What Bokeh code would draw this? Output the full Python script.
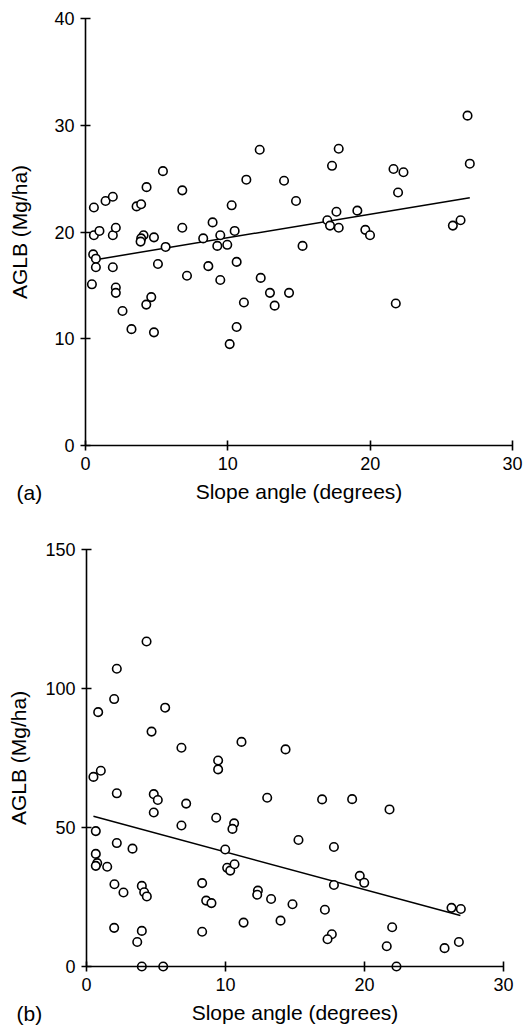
from bokeh.plotting import figure
from bokeh.layouts import column
from bokeh.models import Range1d, FixedTicker
from bokeh.core.properties import value
from bokeh.embed import file_html
from bokeh.resources import INLINE

# ---- data: panel (a) ----
a_slope = [0.45, 0.59, 0.59, 0.54, 0.73, 0.73, 0.98, 1.41, 1.92, 1.92, 1.92, 2.13, 2.13, 2.13,
           2.6, 3.23, 3.59, 3.91, 4.29, 5.44, 4.08, 3.91, 3.87, 4.81, 5.63, 5.09, 4.27, 4.62,
           4.81, 6.8, 6.8, 7.13, 8.63, 8.27, 8.93, 9.26, 9.47, 9.96, 9.47, 10.27, 10.48, 10.62,
           10.13, 10.62, 11.13, 11.3, 12.24, 12.31, 12.96, 13.29, 13.95, 14.3, 14.79, 15.25,
           17.79, 17.32, 17.63, 16.99, 17.18, 17.79, 19.1, 19.66, 19.99, 21.64, 22.34, 21.96,
           21.8, 25.81, 26.35, 26.84, 27.0]
a_aglb = [15.1, 22.3, 19.7, 17.9, 17.5, 16.7, 20.1, 22.9, 23.3, 19.7, 16.7, 20.4, 14.8, 14.3,
          12.6, 10.9, 22.4, 22.6, 24.2, 25.7, 19.7, 19.4, 19.1, 19.5, 18.6, 17.0, 13.2, 13.9,
          10.6, 23.9, 20.4, 15.9, 16.8, 19.4, 20.9, 18.7, 19.7, 18.8, 15.5, 22.5, 20.1, 17.2,
          9.5, 11.1, 13.4, 24.9, 27.7, 15.7, 14.3, 13.1, 24.8, 14.3, 22.9, 18.7,
          27.8, 26.2, 21.9, 21.1, 20.6, 20.4, 22.0, 20.2, 19.7, 25.9, 25.6, 23.7,
          13.3, 20.6, 21.1, 30.9, 26.4]
a_fit_x = [0.7, 27.0]
a_fit_intercept = 17.25
a_fit_slope = 0.221

# ---- data: panel (b) ----
b_slope = [4.32, 2.18, 1.99, 0.84, 5.66, 4.68, 6.83, 11.15, 14.32, 9.47, 9.47, 0.5, 1.03, 2.18,
           4.84, 5.13, 7.17, 13.0, 4.84, 9.33, 6.83, 10.62, 10.5, 0.67, 15.25, 16.95, 19.11,
           21.8, 2.18, 3.31, 0.67, 0.77, 0.67, 1.49, 2.01, 2.66, 3.98, 4.15, 4.34, 1.99, 3.98,
           3.65, 3.98, 5.52, 8.32, 8.61, 8.99, 8.32, 9.98, 10.12, 10.34, 10.65, 11.3, 12.33,
           12.28, 13.28, 13.96, 14.82, 17.8, 19.66, 19.98, 17.8, 17.15, 17.65, 17.34, 21.99,
           21.6, 22.3, 25.76, 26.79, 26.26, 26.93]
b_aglb = [116.9, 107.1, 96.2, 91.5, 93.1, 84.5, 78.7, 80.8, 78.1, 74.1, 70.9, 68.2, 70.4, 62.3,
          62.0, 59.9, 58.6, 60.7, 55.4, 53.5, 50.7, 51.5, 49.5, 48.7, 45.5, 60.1, 60.2,
          56.5, 44.4, 42.4, 40.5, 37.2, 36.2, 35.9, 29.6, 26.6, 29.0, 26.7, 25.2, 13.9, 12.8,
          8.8, 0.0, 0.0, 30.0, 23.7, 22.8, 12.5, 42.1, 35.5, 34.5, 36.8, 15.8, 27.3,
          25.8, 24.3, 16.5, 22.4, 43.0, 32.6, 30.1, 29.3, 20.4, 11.6, 9.8, 14.1,
          7.3, 0.0, 6.6, 8.8, 21.1, 20.7]
b_fit_x = [0.5, 26.9]
b_fit_intercept = 54.75
b_fit_slope = -1.354

x_ticks = [0, 10, 20, 30]
a_y_ticks = [0, 10, 20, 30, 40]
b_y_ticks = [0, 50, 100, 150]

FONT = "Liberation Sans"
W = 523


def make_panel(xs, ys, fit_x, icpt, slope, ymax, yticks, tag, height,
               px_x0, px_x30, px_ytop, px_y0, title_standoff):
    # axes are drawn at fixed locations inside a frame spanning the whole canvas;
    # ranges are chosen so that the data box lands at the given pixel positions
    sx = (px_x30 - px_x0) / 30.0
    sy = (px_y0 - px_ytop) / float(ymax)
    xr = Range1d(-px_x0 / sx, 30 + (W - px_x30) / sx)
    yr = Range1d(-(height - px_y0) / sy, ymax + px_ytop / sy)
    p = figure(width=W, height=height, output_backend="svg", toolbar_location=None,
               x_range=xr, y_range=yr, min_border=0,
               min_border_top=0, min_border_bottom=0, min_border_left=0, min_border_right=0)
    p.outline_line_color = None
    p.xgrid.visible = False
    p.ygrid.visible = False
    p.background_fill_color = "white"
    p.border_fill_color = "white"
    for ax in (p.xaxis[0], p.yaxis[0]):
        ax.fixed_location = 0
        ax.axis_line_width = 1.6
        ax.axis_line_color = "black"
        ax.major_tick_line_width = 1.6
        ax.major_tick_line_color = "black"
        ax.major_tick_in = 5
        ax.major_tick_out = 5
        ax.minor_tick_line_color = None
        ax.major_label_text_font = FONT
        ax.major_label_text_font_size = "18px"
        ax.major_label_text_color = "black"
        ax.axis_label_text_font = FONT
        ax.axis_label_text_font_size = "21px"
        ax.axis_label_text_font_style = "normal"
        ax.axis_label_text_color = "black"
    p.xaxis.bounds = (0, 30)
    p.yaxis.bounds = (0, ymax)
    p.xaxis.ticker = FixedTicker(ticks=x_ticks)
    p.yaxis.ticker = FixedTicker(ticks=yticks)
    p.xaxis.axis_label = "Slope angle (degrees)"
    p.yaxis.axis_label = "AGLB (Mg/ha)"
    p.xaxis.major_label_standoff = 6
    p.xaxis.axis_label_standoff = 7
    p.yaxis.major_label_standoff = 6
    p.yaxis.axis_label_standoff = title_standoff

    fy = [icpt + slope * v for v in fit_x]
    p.line(fit_x, fy, line_color="black", line_width=1.5)
    p.scatter(xs, ys, marker="circle", size=8.5, fill_color="white",
              line_color="black", line_width=1.6)

    # panel tag, placed left of the x-axis title, 47 px below the axis line
    tag_x = (16 - px_x0) / sx
    tag_y = -47 / sy
    p.text(x=[tag_x], y=[tag_y], text=[tag], text_font=value(FONT), text_font_size="21px",
           text_color="black", text_baseline="middle", text_align="left")
    return p


pa = make_panel(a_slope, a_aglb, a_fit_x, a_fit_intercept, a_fit_slope, 40, a_y_ticks, "(a)",
                height=522, px_x0=85, px_x30=512, px_ytop=18, px_y0=445, title_standoff=20)
pb = make_panel(b_slope, b_aglb, b_fit_x, b_fit_intercept, b_fit_slope, 150, b_y_ticks, "(b)",
                height=503, px_x0=86, px_x30=503, px_ytop=27, px_y0=444, title_standoff=12)

layout = column(pa, pb, spacing=0)
open("out.html", "w").write(file_html(layout, INLINE))
